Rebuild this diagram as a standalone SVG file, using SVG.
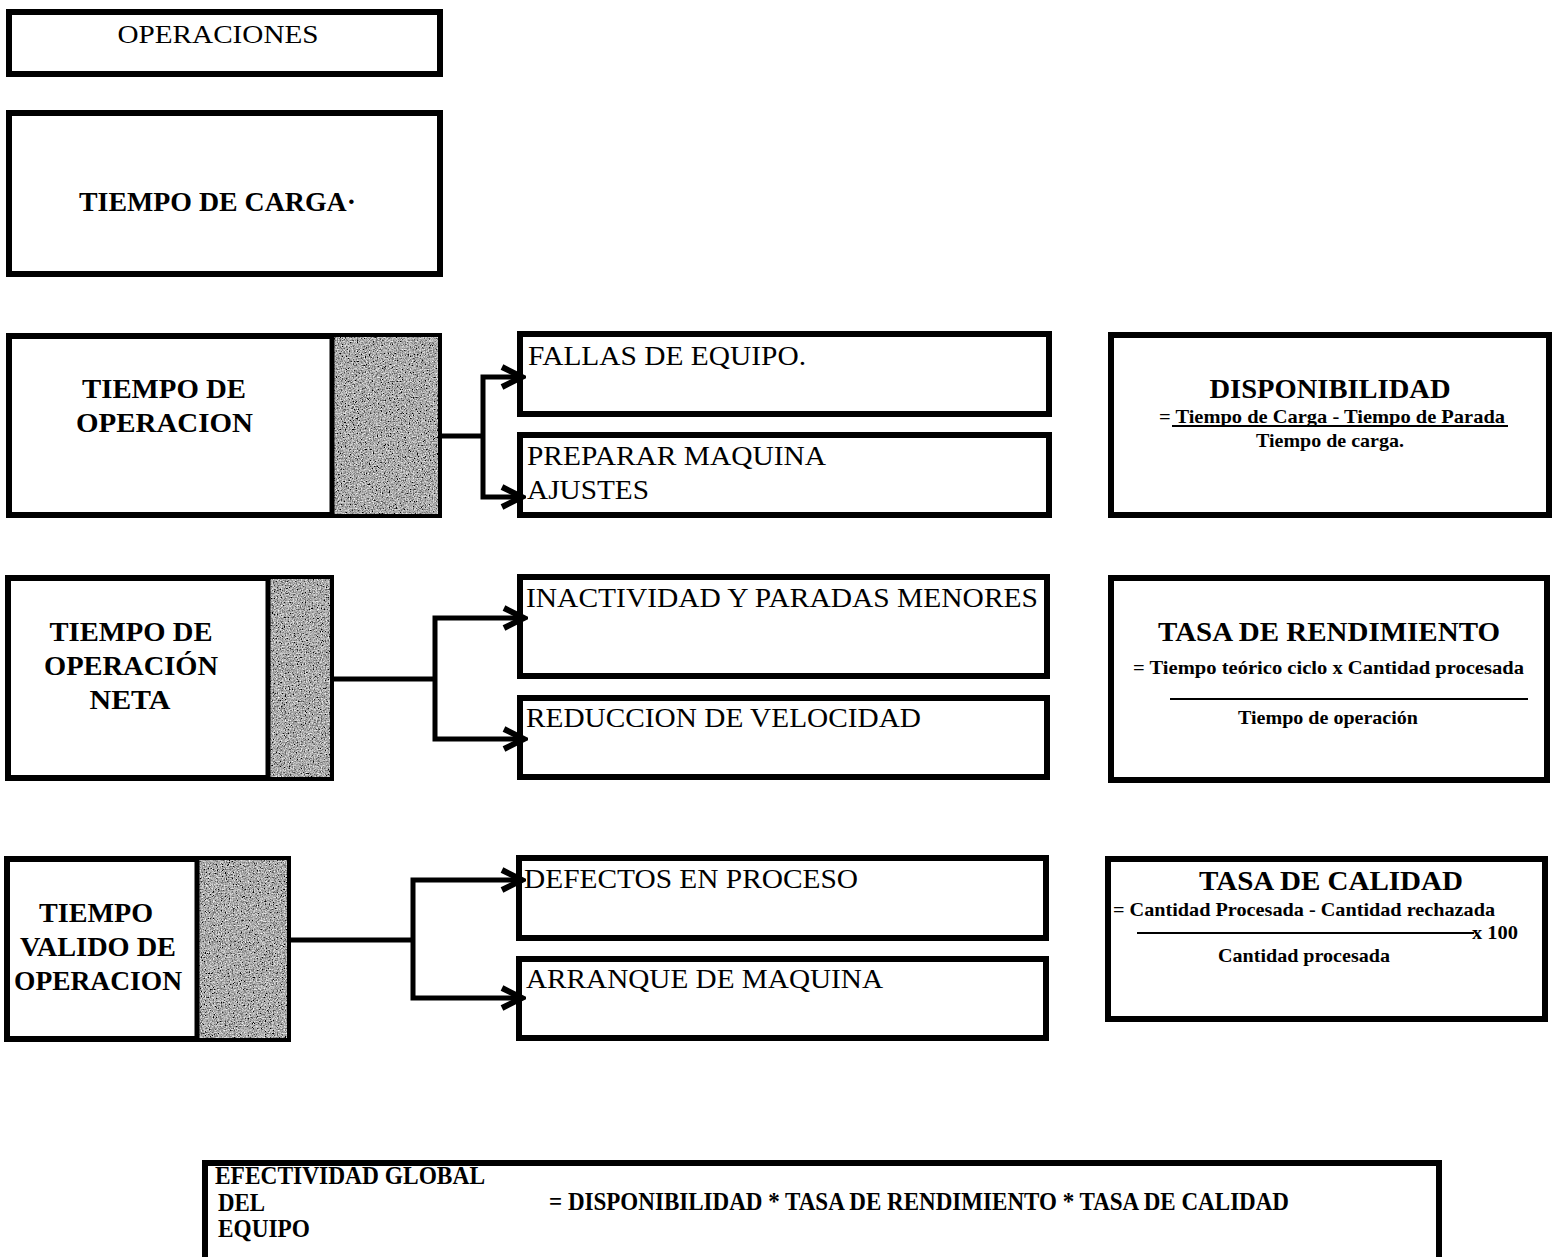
<svg xmlns="http://www.w3.org/2000/svg" width="1560" height="1257" viewBox="0 0 1560 1257">
  <style>
    .box { fill: #ffffff; stroke: #000000; stroke-width: 6; }
    .div { stroke: #000000; stroke-width: 5; }
    .shade { fill: #8c8c8c; filter: url(#grain); }
    .t { font-family: "Liberation Serif", "Times New Roman", serif; fill: #000000; }
    .b { font-weight: bold; }
    .reg { font-size: 27px; }
    .head { font-size: 27px; font-weight: bold; }
    .frm { font-size: 19px; font-weight: bold; }
    .wire { fill: none; stroke: #000000; stroke-width: 5; stroke-linejoin: miter; }
    .arr { marker-end: url(#head); }
    .rule { stroke: #000000; stroke-width: 2; }
  </style>
  <defs>
    <!-- speckled grey fill for the side bars -->
    <filter id="grain" x="0" y="0" width="100%" height="100%">
      <feTurbulence type="fractalNoise" baseFrequency="0.75" numOctaves="2" seed="7" result="n"/>
      <feColorMatrix in="n" type="matrix" values="0.33 0.33 0.33 0 0  0.33 0.33 0.33 0 0  0.33 0.33 0.33 0 0  0 0 0 0 1" result="g"/>
      <feComponentTransfer in="g" result="c">
        <feFuncR type="linear" slope="2.8" intercept="-0.98"/>
        <feFuncG type="linear" slope="2.8" intercept="-0.98"/>
        <feFuncB type="linear" slope="2.8" intercept="-0.98"/>
      </feComponentTransfer>
      <feComposite in="c" in2="SourceGraphic" operator="in"/>
    </filter>
    <marker id="head" viewBox="0 0 28 28" refX="24" refY="14" markerWidth="28" markerHeight="28" markerUnits="userSpaceOnUse" orient="auto">
      <path d="M4,4 L24,14 L4,24" fill="none" stroke="#000000" stroke-width="6" stroke-linejoin="miter"/>
    </marker>
  </defs>

  <rect x="0" y="0" width="1560" height="1257" fill="#ffffff"/>

  <g id="operaciones">
    <rect class="box" x="9" y="12" width="431" height="62"/>
    <text class="t" x="218" y="43" font-size="26" text-anchor="middle" textLength="201" lengthAdjust="spacingAndGlyphs">OPERACIONES</text>
  </g>

  <g id="tiempo-carga">
    <rect class="box" x="9" y="113" width="431" height="161"/>
    <text class="t head" x="79" y="211" textLength="277" lengthAdjust="spacingAndGlyphs">TIEMPO DE CARGA·</text>
  </g>

  <!-- row 1 -->
  <g id="tiempo-operacion">
    <rect class="box" x="9" y="336" width="430" height="179"/>
    <rect class="shade" x="333" y="337" width="105" height="177"/>
    <line class="div" x1="332" y1="336" x2="332" y2="515"/>
    <text class="t head" x="82" y="398" textLength="164" lengthAdjust="spacingAndGlyphs">TIEMPO DE</text>
    <text class="t head" x="76" y="432" textLength="177" lengthAdjust="spacingAndGlyphs">OPERACION</text>
  </g>
  <g id="fallas">
    <rect class="box" x="520" y="334" width="529" height="80"/>
    <text class="t reg" x="528" y="365" textLength="278" lengthAdjust="spacingAndGlyphs">FALLAS DE EQUIPO.</text>
  </g>
  <g id="preparar">
    <rect class="box" x="520" y="435" width="529" height="80"/>
    <text class="t reg" x="527" y="465" textLength="299" lengthAdjust="spacingAndGlyphs">PREPARAR MAQUINA</text>
    <text class="t reg" x="527" y="499" textLength="122" lengthAdjust="spacingAndGlyphs">AJUSTES</text>
  </g>
  <g id="disponibilidad">
    <rect class="box" x="1111" y="335" width="438" height="180"/>
    <text class="t head" x="1330" y="398" text-anchor="middle" textLength="241" lengthAdjust="spacingAndGlyphs">DISPONIBILIDAD</text>
    <text class="t frm" x="1159" y="423" textLength="346" lengthAdjust="spacingAndGlyphs">= Tiempo de Carga - Tiempo de Parada</text>
    <line class="rule" x1="1172" y1="426" x2="1508" y2="426"/>
    <text class="t frm" x="1330" y="447" text-anchor="middle" textLength="148" lengthAdjust="spacingAndGlyphs">Tiempo de carga.</text>
  </g>

  <!-- row 2 -->
  <g id="tiempo-operacion-neta">
    <rect class="box" x="8" y="578" width="323" height="200"/>
    <rect class="shade" x="269" y="579" width="61" height="198"/>
    <line class="div" x1="268" y1="578" x2="268" y2="778"/>
    <text class="t head" x="131" y="641" text-anchor="middle" textLength="163" lengthAdjust="spacingAndGlyphs">TIEMPO DE</text>
    <text class="t head" x="131" y="675" text-anchor="middle" textLength="174" lengthAdjust="spacingAndGlyphs">OPERACIÓN</text>
    <text class="t head" x="130" y="709" text-anchor="middle" textLength="81" lengthAdjust="spacingAndGlyphs">NETA</text>
  </g>
  <g id="inactividad">
    <rect class="box" x="520" y="577" width="527" height="99"/>
    <text class="t reg" x="526" y="607" textLength="512" lengthAdjust="spacingAndGlyphs">INACTIVIDAD Y PARADAS MENORES</text>
  </g>
  <g id="reduccion">
    <rect class="box" x="520" y="698" width="527" height="79"/>
    <text class="t reg" x="526" y="727" textLength="395" lengthAdjust="spacingAndGlyphs">REDUCCION DE VELOCIDAD</text>
  </g>
  <g id="tasa-rendimiento">
    <rect class="box" x="1111" y="578" width="436" height="202"/>
    <text class="t head" x="1329" y="641" text-anchor="middle" font-size="28" textLength="342" lengthAdjust="spacingAndGlyphs">TASA DE RENDIMIENTO</text>
    <text class="t frm" x="1133" y="674" font-size="20" textLength="391" lengthAdjust="spacingAndGlyphs">= Tiempo teórico ciclo x Cantidad procesada</text>
    <line class="rule" x1="1170" y1="699" x2="1528" y2="699"/>
    <text class="t frm" x="1328" y="724" text-anchor="middle" textLength="180" lengthAdjust="spacingAndGlyphs">Tiempo de operación</text>
  </g>

  <!-- row 3 -->
  <g id="tiempo-valido">
    <rect class="box" x="7" y="859" width="281" height="180"/>
    <rect class="shade" x="198" y="860" width="89" height="178"/>
    <line class="div" x1="197" y1="859" x2="197" y2="1039"/>
    <text class="t head" x="96" y="922" text-anchor="middle" textLength="114" lengthAdjust="spacingAndGlyphs">TIEMPO</text>
    <text class="t head" x="98" y="956" text-anchor="middle" textLength="156" lengthAdjust="spacingAndGlyphs">VALIDO DE</text>
    <text class="t head" x="98" y="990" text-anchor="middle" textLength="168" lengthAdjust="spacingAndGlyphs">OPERACION</text>
  </g>
  <g id="defectos">
    <rect class="box" x="519" y="858" width="527" height="80"/>
    <text class="t reg" x="524" y="888" textLength="334" lengthAdjust="spacingAndGlyphs">DEFECTOS EN PROCESO</text>
  </g>
  <g id="arranque">
    <rect class="box" x="519" y="959" width="527" height="79"/>
    <text class="t reg" x="526" y="988" textLength="357" lengthAdjust="spacingAndGlyphs">ARRANQUE DE MAQUINA</text>
  </g>
  <g id="tasa-calidad">
    <rect class="box" x="1108" y="859" width="437" height="160"/>
    <text class="t head" x="1331" y="890" text-anchor="middle" font-size="28" textLength="264" lengthAdjust="spacingAndGlyphs">TASA DE CALIDAD</text>
    <text class="t frm" x="1113" y="916" textLength="382" lengthAdjust="spacingAndGlyphs">= Cantidad Procesada - Cantidad rechazada</text>
    <line class="rule" x1="1137" y1="933" x2="1474" y2="933"/>
    <text class="t frm" x="1472" y="939" textLength="46" lengthAdjust="spacingAndGlyphs">x 100</text>
    <text class="t frm" x="1304" y="962" text-anchor="middle" textLength="172" lengthAdjust="spacingAndGlyphs">Cantidad procesada</text>
  </g>

  <!-- overall equipment effectiveness -->
  <g id="efectividad-global">
    <rect class="box" x="205" y="1163" width="1234" height="110"/>
    <text class="t b" x="215" y="1184" font-size="25" textLength="270" lengthAdjust="spacingAndGlyphs">EFECTIVIDAD GLOBAL</text>
    <text class="t b" x="218" y="1211" font-size="25" textLength="47" lengthAdjust="spacingAndGlyphs">DEL</text>
    <text class="t b" x="218" y="1237" font-size="25" textLength="92" lengthAdjust="spacingAndGlyphs">EQUIPO</text>
    <text class="t b" x="549" y="1210" font-size="25" textLength="740" lengthAdjust="spacingAndGlyphs">= DISPONIBILIDAD * TASA DE RENDIMIENTO * TASA DE CALIDAD</text>
  </g>

  <g id="connectors">
    <path class="wire" d="M442,436 H483"/>
    <path class="wire arr" d="M483,436 V377 H522"/>
    <path class="wire arr" d="M483,436 V497 H522"/>

    <path class="wire" d="M334,679 H435"/>
    <path class="wire arr" d="M435,679 V618 H524"/>
    <path class="wire arr" d="M435,679 V739 H524"/>

    <path class="wire" d="M291,940 H413"/>
    <path class="wire arr" d="M413,940 V880 H522"/>
    <path class="wire arr" d="M413,940 V998 H522"/>
  </g>
</svg>
